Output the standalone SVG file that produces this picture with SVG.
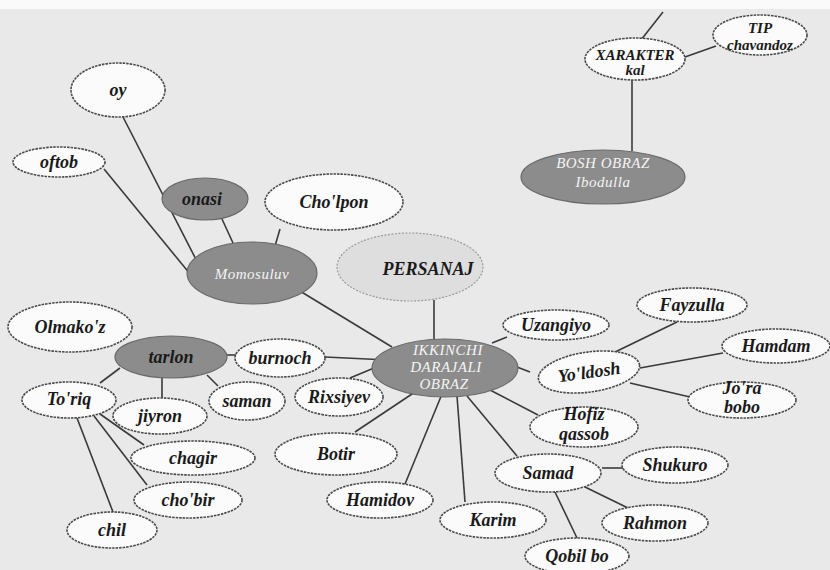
<svg xmlns="http://www.w3.org/2000/svg" width="830" height="570" viewBox="0 0 830 570">
<style>
.n{fill:#fbfbfb;stroke:#4a4a4a;stroke-width:1.6;stroke-dasharray:2.5 1}
.d{fill:#8c8c8c;stroke:#6a6a6a;stroke-width:1.2}
.p{fill:#dedede;stroke:#9a9a9a;stroke-width:1.2;stroke-dasharray:2 1.5}
.t{font-family:"Liberation Serif",serif;font-style:italic;font-weight:bold;font-size:18px;fill:#1a1a1a;text-anchor:middle}
.w{font-family:"Liberation Serif",serif;font-style:italic;font-size:15px;fill:#f4f4f4;text-anchor:middle;letter-spacing:0.5px}
.s{font-size:15px}
#edges line{stroke:#3a3a3a;stroke-width:1.6}
</style>
<rect x="0" y="0" width="830" height="570" fill="#e9e9e9"/>
<rect x="0" y="0" width="830" height="9" fill="#fafafa"/>
<g id="edges">
<line x1="663" y1="12" x2="637" y2="45"/>
<line x1="685" y1="57" x2="716" y2="46"/>
<line x1="632" y1="80" x2="632" y2="151"/>
<line x1="123" y1="117" x2="205" y2="277"/>
<line x1="104" y1="169" x2="195" y2="280"/>
<line x1="222" y1="219" x2="233" y2="243"/>
<line x1="280" y1="229" x2="275" y2="246"/>
<line x1="295" y1="288" x2="392" y2="347"/>
<line x1="434" y1="300" x2="434" y2="340"/>
<line x1="227" y1="355" x2="236" y2="355"/>
<line x1="325" y1="357" x2="388" y2="360"/>
<line x1="350" y1="378" x2="374" y2="368"/>
<line x1="355" y1="432" x2="415" y2="392"/>
<line x1="442" y1="394" x2="405" y2="484"/>
<line x1="457" y1="396" x2="465" y2="502"/>
<line x1="467" y1="396" x2="517" y2="456"/>
<line x1="490" y1="390" x2="538" y2="415"/>
<line x1="492" y1="343" x2="507" y2="337"/>
<line x1="517" y1="367" x2="530" y2="372"/>
<line x1="613" y1="353" x2="677" y2="322"/>
<line x1="640" y1="368" x2="723" y2="353"/>
<line x1="630" y1="383" x2="690" y2="397"/>
<line x1="602" y1="468" x2="623" y2="468"/>
<line x1="585" y1="487" x2="628" y2="508"/>
<line x1="555" y1="492" x2="577" y2="538"/>
<line x1="120" y1="368" x2="100" y2="383"/>
<line x1="162" y1="378" x2="162" y2="398"/>
<line x1="207" y1="375" x2="218" y2="386"/>
<line x1="100" y1="414" x2="144" y2="445"/>
<line x1="94" y1="416" x2="147" y2="485"/>
<line x1="77" y1="418" x2="113" y2="512"/>
</g>
<g id="xarakter"><ellipse class="n" cx="635" cy="59" rx="50" ry="21"/><text class="t s" x="635" y="60">XARAKTER</text><text class="t s" x="635" y="75">kal</text></g>
<g id="tip"><ellipse class="n" cx="760" cy="35" rx="47" ry="20"/><text class="t s" x="760" y="33">TIP</text><text class="t s" x="760" y="50" font-weight="normal">chavandoz</text></g>
<g id="bosh"><ellipse class="d" cx="603" cy="177" rx="82" ry="27"/><text class="w" x="603" y="168">BOSH OBRAZ</text><text class="w" x="603" y="187">Ibodulla</text></g>
<g id="oy"><ellipse class="n" cx="118" cy="90" rx="47" ry="27"/><text class="t" x="118" y="96">oy</text></g>
<g id="oftob"><ellipse class="n" cx="59" cy="162" rx="46" ry="15"/><text class="t" x="59" y="168">oftob</text></g>
<g id="onasi"><ellipse class="d" cx="205" cy="199" rx="43" ry="21"/><text class="t" x="202" y="205">onasi</text></g>
<g id="cholpon"><ellipse class="n" cx="334" cy="202" rx="69" ry="28"/><text class="t" x="334" y="208">Cho'lpon</text></g>
<g id="momosuluv"><ellipse class="d" cx="252" cy="273" rx="65" ry="31"/><text class="w" x="252" y="279" font-size="18px" letter-spacing="1px">Momosuluv</text></g>
<g id="persanaj"><ellipse class="p" cx="410" cy="267" rx="73" ry="34"/><text class="t" x="428" y="275" font-size="22px" font-weight="normal">PERSANAJ</text></g>
<g id="ikkinchi"><ellipse class="d" cx="445" cy="368" rx="73" ry="29"/><text class="w" x="448" y="355">IKKINCHI</text><text class="w" x="446" y="372">DARAJALI</text><text class="w" x="444" y="389">OBRAZ</text></g>
<g id="olmakoz"><ellipse class="n" cx="70" cy="327" rx="62" ry="25"/><text class="t" x="70" y="333">Olmako'z</text></g>
<g id="tarlon"><ellipse class="d" cx="171" cy="357" rx="56" ry="21"/><text class="t" x="171" y="363">tarlon</text></g>
<g id="burnoch"><ellipse class="n" cx="280" cy="358" rx="45" ry="19"/><text class="t" x="280" y="364">burnoch</text></g>
<g id="toriq"><ellipse class="n" cx="69" cy="400" rx="47" ry="18"/><text class="t" x="69" y="405">To'riq</text></g>
<g id="jiyron"><ellipse class="n" cx="160" cy="416" rx="47" ry="18"/><text class="t" x="160" y="422">jiyron</text></g>
<g id="saman"><ellipse class="n" cx="247" cy="401" rx="38" ry="19"/><text class="t" x="247" y="407">saman</text></g>
<g id="chagir"><ellipse class="n" cx="193" cy="458" rx="62" ry="17"/><text class="t" x="193" y="464">chagir</text></g>
<g id="chobir"><ellipse class="n" cx="188" cy="500" rx="54" ry="18"/><text class="t" x="188" y="506">cho'bir</text></g>
<g id="chil"><ellipse class="n" cx="112" cy="530" rx="45" ry="18"/><text class="t" x="112" y="536">chil</text></g>
<g id="rixsiyev"><ellipse class="n" cx="339" cy="397" rx="44" ry="19"/><text class="t" x="339" y="403">Rixsiyev</text></g>
<g id="botir"><ellipse class="n" cx="336" cy="454" rx="61" ry="21"/><text class="t" x="336" y="460">Botir</text></g>
<g id="hamidov"><ellipse class="n" cx="380" cy="500" rx="53" ry="18"/><text class="t" x="380" y="506">Hamidov</text></g>
<g id="karim"><ellipse class="n" cx="493" cy="520" rx="53" ry="18"/><text class="t" x="493" y="526">Karim</text></g>
<g id="samad"><ellipse class="n" cx="548" cy="473" rx="53" ry="19"/><text class="t" x="548" y="479">Samad</text></g>
<g id="shukuro"><ellipse class="n" cx="675" cy="465" rx="53" ry="18"/><text class="t" x="675" y="471">Shukuro</text></g>
<g id="rahmon"><ellipse class="n" cx="655" cy="523" rx="53" ry="18"/><text class="t" x="655" y="529">Rahmon</text></g>
<g id="qobil"><ellipse class="n" cx="577" cy="556" rx="52" ry="18"/><text class="t" x="577" y="562">Qobil bo</text></g>
<g id="uzangiyo"><ellipse class="n" cx="556" cy="325" rx="53" ry="15"/><text class="t" x="556" y="331">Uzangiyo</text></g>
<g id="fayzulla"><ellipse class="n" cx="692" cy="305" rx="55" ry="17"/><text class="t" x="692" y="311">Fayzulla</text></g>
<g id="hamdam"><ellipse class="n" cx="776" cy="346" rx="54" ry="17"/><text class="t" x="776" y="352">Hamdam</text></g>
<g id="yoldosh"><ellipse class="n" cx="589" cy="372" rx="51" ry="20" transform="rotate(-8 589 372)"/><text class="t" x="589" y="378" transform="rotate(-8 589 372)">Yo'ldosh</text></g>
<g id="jorabobo"><ellipse class="n" cx="742" cy="400" rx="54" ry="18"/><text class="t" x="742" y="394">Jo'ra</text><text class="t" x="742" y="413">bobo</text></g>
<g id="hofiz"><ellipse class="n" cx="584" cy="427" rx="54" ry="20"/><text class="t" x="584" y="420">Hofiz</text><text class="t" x="584" y="440">qassob</text></g>
</svg>
